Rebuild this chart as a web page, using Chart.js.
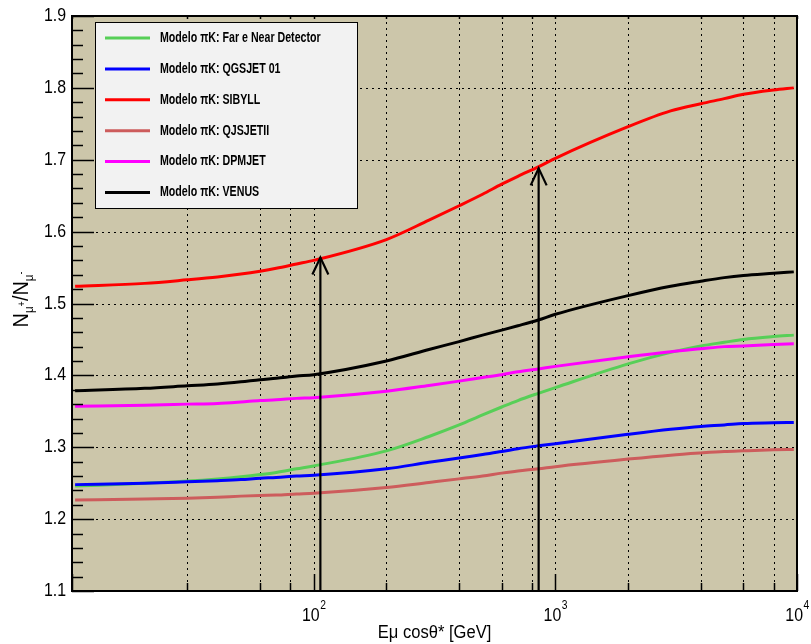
<!DOCTYPE html>
<html lang="pt">
<head>
  <meta charset="UTF-8">
  <title>Razão N&mu;+/N&mu;-</title>
  <script src="https://cdn.jsdelivr.net/npm/chart.js"></script>
  <style>
    body { margin: 0; background: #fff; }
    #wrap { width: 811px; height: 644px; }
  </style>
</head>
<body>
  <div id="wrap"><canvas id="grafico" width="811" height="644"></canvas></div>
  <script>
    // energias (GeV)
    const energias = [10.3, 20, 30, 40, 50, 60, 70, 85, 100, 200, 300, 400, 500, 600, 700, 850, 1000, 2000, 3000, 4000, 5000, 6000, 8000, 9700];

    const farNear  = [1.246, 1.250, 1.253, 1.256, 1.259, 1.262, 1.265, 1.270, 1.274, 1.295, 1.315, 1.331, 1.345, 1.356, 1.365, 1.375, 1.383, 1.416, 1.432, 1.441, 1.446, 1.450, 1.454, 1.456];
    const qgsjet01 = [1.248, 1.250, 1.252, 1.2535, 1.255, 1.257, 1.258, 1.260, 1.261, 1.270, 1.279, 1.285, 1.290, 1.294, 1.298, 1.302, 1.305, 1.318, 1.325, 1.329, 1.331, 1.333, 1.334, 1.3345];
    const sibyll   = [1.524, 1.528, 1.533, 1.537, 1.541, 1.545, 1.549, 1.555, 1.560, 1.589, 1.616, 1.636, 1.652, 1.666, 1.677, 1.690, 1.702, 1.746, 1.768, 1.778, 1.785, 1.791, 1.797, 1.800];
    const qjsjetII = [1.2265, 1.228, 1.229, 1.2305, 1.232, 1.233, 1.2335, 1.235, 1.236, 1.244, 1.251, 1.256, 1.260, 1.264, 1.267, 1.270, 1.273, 1.2835, 1.289, 1.292, 1.294, 1.295, 1.2964, 1.297];
    const dpmjet   = [1.357, 1.3586, 1.360, 1.361, 1.363, 1.365, 1.366, 1.368, 1.369, 1.378, 1.386, 1.392, 1.397, 1.401, 1.405, 1.409, 1.4125, 1.426, 1.433, 1.437, 1.440, 1.441, 1.443, 1.444];
    const venus    = [1.3785, 1.382, 1.3855, 1.388, 1.391, 1.394, 1.396, 1.399, 1.401, 1.420, 1.436, 1.447, 1.456, 1.463, 1.469, 1.477, 1.485, 1.511, 1.524, 1.531, 1.536, 1.539, 1.542, 1.544];

    const series = [farNear, qgsjet01, sibyll, qjsjetII, dpmjet, venus];
    const nomes = ['Modelo \u03c0K: Far e Near Detector', 'Modelo \u03c0K: QGSJET 01', 'Modelo \u03c0K: SIBYLL',
                   'Modelo \u03c0K: QJSJETII', 'Modelo \u03c0K: DPMJET', 'Modelo \u03c0K: VENUS'];
    const cores = ['#57cf57', '#0000ff', '#ff0000', '#cd5c5c', '#ff00ff', '#000000'];

    // setas verticais (energia, valor no topo)
    const setasE = [106.6, 853];
    const setasTopo = [1.564, 1.688];

    // rótulos dos eixos
    const yMarcas = ['1.1', '1.2', '1.3', '1.4', '1.5', '1.6', '1.7', '1.8', '1.9'];
    const xDecadas = [100, 1000, 10000];
    const xExpoentes = ['2', '3', '4'];
    const tituloX = 'E\u03bc cos\u03b8* [GeV]';

    const FONTE = '"Liberation Sans", Arial, sans-serif';

    function texto(ctx, s, x, y, px, peso, alinh, escala) {
      ctx.save();
      ctx.translate(x, y);
      ctx.scale(escala, 1);
      ctx.font = peso + ' ' + px + 'px ' + FONTE;
      ctx.textAlign = alinh;
      ctx.textBaseline = 'middle';
      ctx.fillStyle = '#000';
      ctx.fillText(s, 0, 0);
      ctx.restore();
    }

    const moldura = {
      id: 'moldura',
      beforeDraw(chart) {
        const {ctx, chartArea: a} = chart;
        ctx.save();
        ctx.fillStyle = '#fff';
        ctx.fillRect(0, 0, chart.width, chart.height);
        ctx.fillStyle = '#ccc6aa';
        ctx.fillRect(a.left, a.top, a.right - a.left, a.bottom - a.top);
        ctx.restore();
      },
      beforeDatasetsDraw(chart) {
        const {ctx, chartArea: a, scales: {x, y}} = chart;
        ctx.save();
        ctx.strokeStyle = '#000';
        ctx.lineWidth = 1;
        ctx.setLineDash([2, 4]);
        x.ticks.forEach(t => {
          const px = Math.round(x.getPixelForValue(t.value)) + 0.5;
          if (px <= a.left + 2 || px >= a.right - 2) return;
          ctx.beginPath(); ctx.moveTo(px, a.top); ctx.lineTo(px, a.bottom); ctx.stroke();
        });
        yMarcas.forEach(m => {
          const py = Math.round(y.getPixelForValue(parseFloat(m))) + 0.5;
          if (py <= a.top + 2 || py >= a.bottom - 2) return;
          ctx.beginPath(); ctx.moveTo(a.left, py); ctx.lineTo(a.right, py); ctx.stroke();
        });
        ctx.restore();
      },
      afterDatasetsDraw(chart) {
        const {ctx, chartArea: a, scales: {x, y}} = chart;
        ctx.save();
        // setas
        ctx.strokeStyle = '#000';
        ctx.lineWidth = 2.2;
        setasE.forEach((e, i) => {
          const px = x.getPixelForValue(e);
          const py = y.getPixelForValue(setasTopo[i]);
          ctx.beginPath(); ctx.moveTo(px, a.bottom); ctx.lineTo(px, py); ctx.stroke();
          ctx.beginPath();
          ctx.moveTo(px - 8, py + 17); ctx.lineTo(px, py); ctx.lineTo(px + 8, py + 17);
          ctx.stroke();
        });

        // marcas do eixo y
        ctx.lineWidth = 1.5;
        for (let k = 0; k <= 40; k++) {
          const py = Math.round(y.getPixelForValue(1.1 + k * 0.02)) + 0.5;
          const len = (k % 5 === 0) ? 22 : 11;
          ctx.beginPath(); ctx.moveTo(a.left, py); ctx.lineTo(a.left + len, py); ctx.stroke();
        }
        // marcas do eixo x (em baixo e em cima)
        x.ticks.forEach(t => {
          const px = Math.round(x.getPixelForValue(t.value)) + 0.5;
          const maior = xDecadas.includes(t.value) || t.value === 10;
          const len = maior ? 17 : 8;
          ctx.beginPath(); ctx.moveTo(px, a.bottom); ctx.lineTo(px, a.bottom - len); ctx.stroke();
          ctx.beginPath(); ctx.moveTo(px, a.top); ctx.lineTo(px, a.top + 3); ctx.stroke();
        });

        // moldura
        ctx.lineWidth = 2;
        ctx.strokeRect(a.left, a.top, a.right - a.left, a.bottom - a.top);

        // rótulos y
        yMarcas.forEach(m => {
          texto(ctx, m, 66, y.getPixelForValue(parseFloat(m)), 18.5, 'normal', 'right', 0.86);
        });
        // rótulos x: 10^n
        xDecadas.forEach((d, i) => {
          const px = x.getPixelForValue(d);
          ctx.font = '18.5px ' + FONTE;
          const w1 = ctx.measureText('10').width * 0.86;
          ctx.font = '12px ' + FONTE;
          const w2 = ctx.measureText(xExpoentes[i]).width * 0.86;
          const x0 = px - (w1 + w2) / 2;
          texto(ctx, '10', x0, 616, 18.5, 'normal', 'left', 0.86);
          texto(ctx, xExpoentes[i], x0 + w1 + 0.5, 606, 12, 'normal', 'left', 0.86);
        });
        // título x
        texto(ctx, tituloX, (a.left + a.right) / 2, 633, 18, 'normal', 'center', 0.92);

        // título y: N_{mu+}/N_{mu-}
        ctx.save();
        ctx.translate(22, (a.top + a.bottom) / 2 - 4);
        ctx.rotate(-Math.PI / 2);
        const partes = [
          ['N', 22, 0], ['\u03bc', 13, 7], ['+', 10, 0], ['/', 22, 0],
          ['N', 22, 0], ['\u03bc', 13, 7], ['-', 10, -1]
        ];
        let total = 0;
        partes.forEach(p => { ctx.font = p[1] + 'px ' + FONTE; total += ctx.measureText(p[0]).width * 0.9; });
        let cx = -total / 2;
        partes.forEach(p => {
          ctx.font = p[1] + 'px ' + FONTE;
          const w = ctx.measureText(p[0]).width * 0.9;
          texto(ctx, p[0], cx, p[2], p[1], 'normal', 'left', 0.9);
          cx += w;
        });
        ctx.restore();

        // legenda
        const lx = 95, ly = 22, lw = 262, lh = 186;
        ctx.fillStyle = '#f2f2f2';
        ctx.fillRect(lx, ly, lw, lh);
        ctx.lineWidth = 1;
        ctx.strokeStyle = '#000';
        ctx.strokeRect(lx + 0.5, ly + 0.5, lw, lh);
        nomes.forEach((n, i) => {
          const ry = 38 + i * 30.9;
          ctx.strokeStyle = cores[i];
          ctx.lineWidth = 3;
          ctx.beginPath(); ctx.moveTo(105, ry); ctx.lineTo(150, ry); ctx.stroke();
          texto(ctx, n, 160, ry, 14, 'bold', 'left', 0.76);
        });
        ctx.restore();
      }
    };

    const datasets = series.map((s, i) => ({
      label: nomes[i],
      data: energias.map((e, j) => ({x: e, y: s[j]})),
      borderColor: cores[i],
      borderWidth: 3,
      pointRadius: 0,
      fill: false,
      cubicInterpolationMode: 'monotone',
      order: series.length - i
    }));

    new Chart(document.getElementById('grafico'), {
      type: 'line',
      data: { datasets: datasets },
      options: {
        responsive: false,
        animation: false,
        devicePixelRatio: 1,
        layout: { padding: { left: 72, right: 14, top: 16, bottom: 53 } },
        scales: {
          x: { type: 'logarithmic', min: 10, max: 10000, display: false },
          y: { type: 'linear', min: 1.1, max: 1.9, display: false }
        },
        plugins: { legend: { display: false }, tooltip: { enabled: false } }
      },
      plugins: [moldura]
    });
  </script>
</body>
</html>
